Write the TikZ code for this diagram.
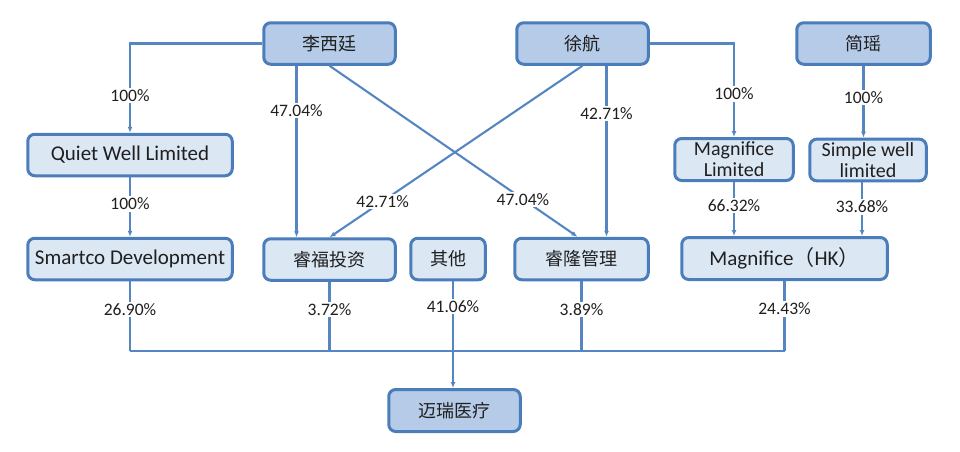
\documentclass[tikz,border=0pt]{standalone}
\usepackage{fontspec}
\setmainfont{Carlito}
\newfontfamily\cjk{Noto Sans CJK SC}
\usetikzlibrary{arrows.meta}
\definecolor{boxline}{HTML}{4A7DBA}
\definecolor{linkblue}{HTML}{5586C2}
\definecolor{darkfill}{HTML}{B5CBE7}
\definecolor{lightfill}{HTML}{DCE7F4}
\definecolor{textgrey}{HTML}{1F1F1F}
\begin{document}
\begin{tikzpicture}[x=1pt, y=-1pt,
	holder/.style={draw=boxline, line width=3pt, rounded corners=7pt, fill=darkfill, minimum height=41.5pt, text=textgrey, font=\cjk\fontsize{18}{18}\selectfont},
	company/.style={holder, fill=lightfill, font=\fontsize{21}{21}\selectfont},
	zh/.style={font=\cjk\fontsize{18}{18}\selectfont},
	link/.style={draw=linkblue, line width=2.1pt},
	arrow/.style={link, -{Latex[length=6pt,width=5pt]}},
	pct/.style={fill=white, inner sep=1.5pt, text=textgrey, font=\fontsize{17.5}{17.5}\selectfont}]
	\useasboundingbox (0,0) rectangle (960,451);

	% Owners
	\node[holder, minimum width=131.5pt] (lxt) at (329.5,43.5) {李西廷};
	\node[holder, minimum width=131.5pt] (xh) at (582.5,43.5) {徐航};
	\node[holder, minimum width=133.5pt] (jy) at (863.5,43.5) {简瑶};

	% Holding companies
	\node[company, minimum width=204.5pt] (qwl) at (130,155) {Quiet Well Limited};
	\node[company, minimum width=204.5pt] (smartco) at (130,259) {Smartco Development};
	\node[company, zh, minimum width=131.5pt] (rf) at (329.5,259.5) {睿福投资};
	\node[company, zh, minimum width=74.5pt] (qt) at (448,259) {其他};
	\node[company, zh, minimum width=133.5pt] (rl) at (581.5,259) {睿隆管理};
	\node[company, minimum width=118.5pt, minimum height=42pt, align=center, font=\fontsize{20}{21}\selectfont] (ml) at (734,159.5) {Magnifice\\Limited};
	\node[company, minimum width=116.5pt, align=center, font=\fontsize{20}{21}\selectfont] (sw) at (868,160) {Simple well\\limited};
	\node[company, minimum width=205.5pt, minimum height=42pt] (hk) at (784.5,258.5) {Magnifice{\cjk （}HK{\cjk ）}};

	% Target
	\node[holder, minimum width=131.5pt, minimum height=42pt] (mr) at (454.5,410.5) {迈瑞医疗};
	\coordinate (bus) at (453,351);

	% Upper links
	\draw[arrow] (lxt.west) -| node[pct, pos=0.79] {100\%} (qwl.north);
	\draw[arrow] (qwl.south) -- node[pct, pos=0.45] {100\%} (smartco.north);
	\draw[arrow] ([xshift=-33pt]lxt.south) -- node[pct, pos=0.26] {47.04\%} ([xshift=-33pt]rf.north);
	\draw[arrow] (lxt.south) -- node[pct, pos=0.78] {47.04\%} ([xshift=-4pt]rl.north);
	\draw[arrow] (xh.south) -- node[pct, pos=0.79] {42.71\%} (rf.north);
	\draw[arrow] ([xshift=24pt]xh.south) -- node[pct, pos=0.28] {42.71\%} ([xshift=24pt]xh.south |- rl.north);
	\draw[arrow] (xh.east) -| node[pct, pos=0.77] {100\%} (ml.north);
	\draw[arrow] (jy.south) -- node[pct, pos=0.44] {100\%} (jy.south |- sw.north);
	\draw[arrow] (ml.south) -- node[pct, pos=0.43] {66.32\%} (ml.south |- hk.north);
	\draw[arrow] ([xshift=-6pt]sw.south) -- node[pct, pos=0.46] {33.68\%} ([xshift=-6pt]sw.south |- hk.north);

	% Lower links
	\draw[link] (smartco.south |- bus) -- (hk.south |- bus);
	\draw[link] (smartco.south) -- node[pct, pos=0.4] {26.90\%} (smartco.south |- bus);
	\draw[link] (rf.south) -- node[pct, pos=0.4] {3.72\%} (rf.south |- bus);
	\draw[link] (rl.south) -- node[pct, pos=0.4] {3.89\%} (rl.south |- bus);
	\draw[link] (hk.south) -- node[pct, pos=0.4] {24.43\%} (hk.south |- bus);
	\draw[arrow] (bus |- qt.south) -- node[pct, pos=0.24] {41.06\%} (bus |- mr.north);
\end{tikzpicture}
\end{document}
